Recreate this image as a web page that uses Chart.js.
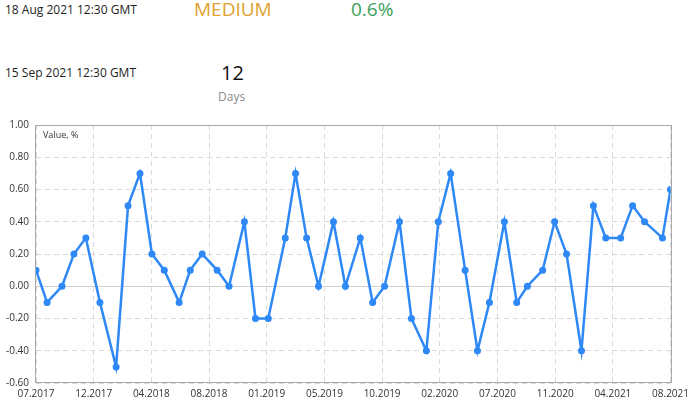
<!DOCTYPE html>
<html>
<head>
<meta charset="utf-8">
<title>CPI m/m</title>
<script src="https://cdn.jsdelivr.net/npm/chart.js@4.4.0/dist/chart.umd.min.js"></script>
<style>
    html, body { margin: 0; padding: 0; background: #fff; }
    body { width: 694px; height: 406px; position: relative; overflow: hidden; font-family: "Open Sans", sans-serif; }
    .txt { position: absolute; white-space: nowrap; line-height: 1; }
    .chart-box { position: absolute; left: 0; top: 112px; width: 694px; height: 294px; }
</style>
</head>
<body>
<div class="txt" style="left:5px; top:4px; font-size:12px; color:#1e1e1e;">18 Aug 2021 12:30 GMT</div>
<div class="txt" style="left:194px; top:0px; font-size:19px; color:#e0a22e;">MEDIUM</div>
<div class="txt" style="left:351px; top:0px; font-size:19px; color:#3a9f5e;">0.6%</div>
<div class="txt" style="left:5px; top:67px; font-size:12px; color:#1e1e1e;">15 Sep 2021 12:30 GMT</div>
<div class="txt" style="left:221px; top:63px; font-size:20px; color:#111;">12</div>
<div class="txt" style="left:218px; top:91px; font-size:12px; color:#8a8a8a;">Days</div>

<div class="chart-box"><canvas id="cpiChart" width="694" height="294"></canvas></div>

<script>
const releaseDates = [
    '2017-07-21', '2017-08-16', '2017-09-20', '2017-10-18', '2017-11-15', '2017-12-18',
    '2018-01-25', '2018-02-22', '2018-03-22', '2018-04-19', '2018-05-18', '2018-06-22',
    '2018-07-18', '2018-08-15', '2018-09-19', '2018-10-17', '2018-11-22', '2018-12-18',
    '2019-01-17', '2019-02-26', '2019-03-22', '2019-04-17', '2019-05-15', '2019-06-19',
    '2019-07-17', '2019-08-21', '2019-09-19', '2019-10-17', '2019-11-21', '2019-12-19',
    '2020-01-23', '2020-02-20', '2020-03-20', '2020-04-23', '2020-05-22', '2020-06-19',
    '2020-07-24', '2020-08-22', '2020-09-16', '2020-10-22', '2020-11-19', '2020-12-17',
    '2021-01-21', '2021-02-18', '2021-03-19', '2021-04-23', '2021-05-21', '2021-06-18',
    '2021-07-30', '2021-08-18'
];
const values = [
    0.1, -0.1, 0.0, 0.2, 0.3, -0.1, -0.5, 0.5, 0.7, 0.2,
    0.1, -0.1, 0.1, 0.2, 0.1, 0.0, 0.4, -0.2, -0.2, 0.3,
    0.7, 0.3, 0.0, 0.4, 0.0, 0.3, -0.1, 0.0, 0.4, -0.2,
    -0.4, 0.4, 0.7, 0.1, -0.4, -0.1, 0.4, -0.1, 0.0, 0.1,
    0.4, 0.2, -0.4, 0.5, 0.3, 0.3, 0.5, 0.4, 0.3, 0.6
];
const xTickLabels = ['07.2017', '12.2017', '04.2018', '08.2018', '01.2019', '05.2019',
                     '10.2019', '02.2020', '07.2020', '11.2020', '04.2021', '08.2021'];
const yTicks = [-0.6, -0.4, -0.2, 0.0, 0.2, 0.4, 0.6, 0.8, 1.0];
const axisTitle = 'Value, %';

document.addEventListener('DOMContentLoaded', function () {
    const ctx = document.getElementById('cpiChart').getContext('2d');
    const points = releaseDates.map((d, i) => ({ x: Date.parse(d + 'T12:30:00Z'), y: values[i] }));
    const xMin = points[0].x;
    const xMax = points[points.length - 1].x;
    const tickFont = { family: 'Open Sans', size: 10 };

    // frame, solid zero line and the small caption inside the plot
    const framePlugin = {
        id: 'frame',
        beforeDatasetsDraw(chart) {
            const { ctx, chartArea: a, scales } = chart;
            const y0 = Math.round(scales.y.getPixelForValue(0)) + 0.5;
            ctx.save();
            ctx.strokeStyle = '#cfcfcf';
            ctx.lineWidth = 1;
            ctx.beginPath();
            ctx.moveTo(a.left, y0);
            ctx.lineTo(a.right, y0);
            ctx.stroke();
            ctx.strokeStyle = '#a9a9a9';
            ctx.strokeRect(Math.round(a.left) - 0.5, Math.round(a.top) + 0.5,
                           Math.round(a.right - a.left) + 1, Math.round(a.bottom - a.top) - 1);
            ctx.fillStyle = '#333';
            ctx.font = '9px "Open Sans"';
            ctx.textBaseline = 'alphabetic';
            ctx.fillText(axisTitle, a.left + 7, a.top + 13);
            ctx.restore();
        }
    };

    new Chart(ctx, {
        type: 'line',
        data: {
            datasets: [{
                data: points,
                borderColor: '#2e88f5',
                backgroundColor: '#2e88f5',
                borderWidth: 2.5,
                pointRadius: 3.5,
                pointHoverRadius: 3.5,
                pointBorderWidth: 0,
                tension: 0,
                clip: 0
            }]
        },
        options: {
            responsive: false,
            animation: false,
            events: [],
            layout: { padding: { top: 13, right: 23, left: 0, bottom: 0 } },
            plugins: { legend: { display: false }, tooltip: { enabled: false } },
            scales: {
                x: {
                    type: 'linear',
                    min: xMin,
                    max: xMax,
                    afterBuildTicks: axis => {
                        axis.ticks = xTickLabels.map((l, i) => ({ value: xMin + i * (xMax - xMin) / (xTickLabels.length - 1) }));
                    },
                    afterFit: axis => { axis.height = 23; },
                    ticks: {
                        autoSkip: false,
                        maxRotation: 0,
                        minRotation: 0,
                        padding: 5,
                        color: '#333',
                        font: tickFont,
                        callback: (v, i) => xTickLabels[i]
                    },
                    grid: { color: '#d9d9d9', drawTicks: false },
                    border: { display: false, dash: [5, 4] }
                },
                y: {
                    min: yTicks[0],
                    max: yTicks[yTicks.length - 1],
                    afterBuildTicks: axis => { axis.ticks = yTicks.map(v => ({ value: v })); },
                    afterFit: axis => { axis.width = 36; },
                    ticks: {
                        padding: 7,
                        color: '#333',
                        font: tickFont,
                        callback: v => v.toFixed(2)
                    },
                    grid: { color: '#d9d9d9', drawTicks: false },
                    border: { display: false, dash: [5, 4] }
                }
            }
        },
        plugins: [framePlugin]
    });
});
</script>
</body>
</html>
